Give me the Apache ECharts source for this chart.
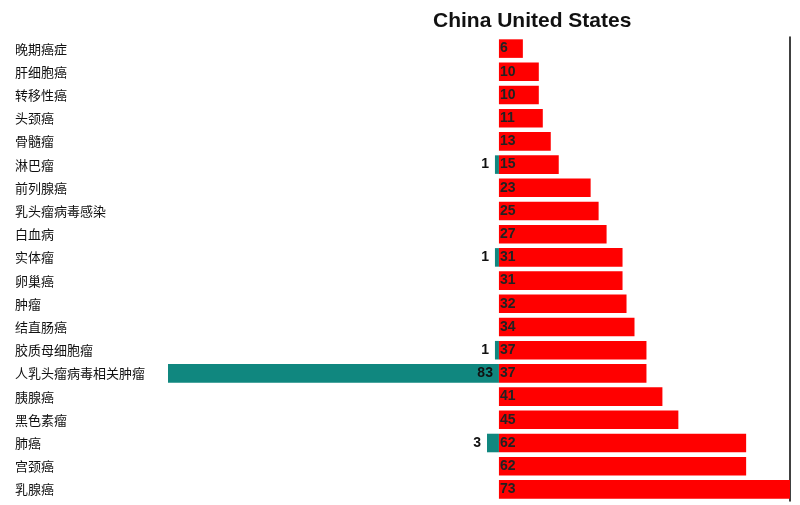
<!DOCTYPE html>
<html><head><meta charset="utf-8">
<script src="https://cdn.jsdelivr.net/npm/echarts@6/dist/echarts.min.js"></script>
<style>html,body{margin:0;padding:0;background:#fff}#c{width:800px;height:505px}</style>
</head><body><div id="c"></div>
<script>
const categories = ['晚期癌症','肝细胞癌','转移性癌','头颈癌','骨髓瘤','淋巴瘤','前列腺癌','乳头瘤病毒感染','白血病','实体瘤','卵巢癌','肿瘤','结直肠癌','胶质母细胞瘤','人乳头瘤病毒相关肿瘤','胰腺癌','黑色素瘤','肺癌','宫颈癌','乳腺癌'];
const chinaValues = [null,null,null,null,null,1,null,null,null,1,null,null,null,1,83,null,null,3,null,null];
const usValues = [6,10,10,11,13,15,23,25,27,31,31,32,34,37,37,41,45,62,62,73];

const chart = echarts.init(document.getElementById('c'));
chart.setOption({
  animation:false,
  title:{text:'China United States',left:428,top:6,textStyle:{fontFamily:'Liberation Sans, Arial',fontWeight:'bold',fontSize:21,color:'#111'}},
  grid:{left:168,right:10,top:37,bottom:4},
  xAxis:{type:'value',min:-83,max:73,show:false},
  yAxis:[
    {type:'category',data:categories,inverse:true,position:'left',axisLine:{show:false},axisTick:{show:false},
     axisLabel:{align:'left',margin:153,fontSize:13,color:'#111',fontFamily:'Noto Sans CJK SC'}},
    {type:'category',data:categories,inverse:true,axisLine:{onZero:true,lineStyle:{color:'#000',width:1.5}},axisTick:{show:false},axisLabel:{show:false}}
  ],
  series:[
    {type:'bar',name:'China',barWidth:'80%',barGap:'-100%',itemStyle:{color:'#10877f'},
     data:chinaValues.map(v=>v==null?null:{value:-v,label:{position:v>10?'insideRight':'left'}}),
     label:{show:true,formatter:p=>Math.abs(p.value),color:'#111',fontWeight:'bold',fontSize:14,fontFamily:'Liberation Sans, Arial',distance:6}},
    {type:'bar',name:'United States',barWidth:'80%',itemStyle:{color:'#ff0000'},data:usValues,
     label:{show:true,position:'insideLeft',distance:1,color:'#222',fontWeight:'bold',fontSize:14,fontFamily:'Liberation Sans, Arial'}}
  ]
});
</script></body></html>
